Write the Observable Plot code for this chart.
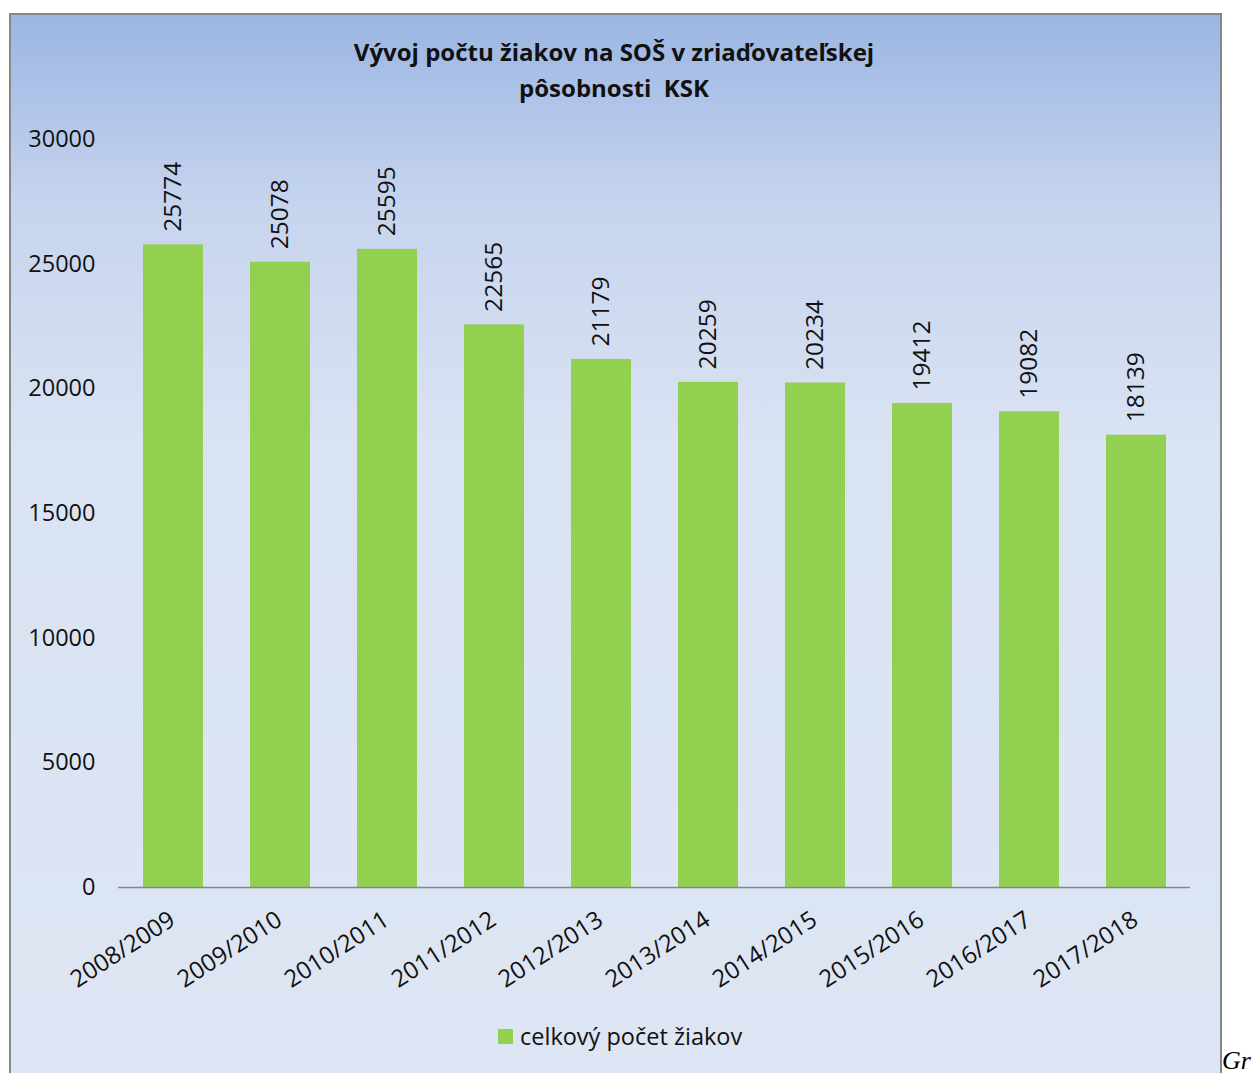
<!DOCTYPE html>
<html><head><meta charset="utf-8">
<script src="https://cdn.jsdelivr.net/npm/d3@7"></script>
<script src="https://cdn.jsdelivr.net/npm/@observablehq/plot@0.6"></script>
<style>
html,body{margin:0;padding:0;background:#fff;width:1258px;height:1073px;overflow:hidden;position:relative;}
#box{position:absolute;left:9px;top:13px;width:1209px;height:1100px;border:2px solid #878787;
 background:linear-gradient(to bottom,#9bb6e3 0px,#c6d4ee 190px,#dae3f3 430px,#dee6f4 100%);}
#chart{position:absolute;left:0;top:0;}
#title{position:absolute;left:0;width:1228px;top:34px;text-align:center;font-family:"Open Sans";font-weight:bold;font-size:24px;line-height:36px;color:#111;white-space:pre;}
#legend{position:absolute;left:498px;top:1020px;font-family:"Open Sans";font-size:23.5px;color:#111;display:flex;align-items:center;}
#legend .sw{width:15px;height:15px;background:#92d050;margin-right:7px;}
#gr{position:absolute;left:1222px;top:1048px;font-family:"Liberation Serif";font-style:italic;font-size:26px;line-height:26px;color:#000;}
</style></head>
<body>
<div id="box"></div>
<div id="title"></div>
<div id="chart"></div>
<div id="legend"><div class="sw"></div><span id="legtext"></span></div>
<div id="gr">Gr</div>
<script>
const titleLines = ["Vývoj počtu žiakov na SOŠ v zriaďovateľskej", "pôsobnosti  KSK"];
const seriesName = "celkový počet žiakov";
const categories = ["2008/2009","2009/2010","2010/2011","2011/2012","2012/2013","2013/2014","2014/2015","2015/2016","2016/2017","2017/2018"];
const values = [25774,25078,25595,22565,21179,20259,20234,19412,19082,18139];
const yTicks = [0,5000,10000,15000,20000,25000,30000];

document.getElementById("title").textContent = titleLines.join("\n");
document.getElementById("legtext").textContent = seriesName;

const data = categories.map((c,i)=>({c, v: values[i]}));
const chart = Plot.plot({
  width:1258, height:1073,
  marginLeft:118, marginRight:68, marginTop:139, marginBottom:186,
  style:{background:"transparent", fontFamily:"Open Sans", fontSize:"23.5px", color:"#111"},
  x:{domain:categories, paddingInner:0.44, paddingOuter:0.22, axis:null},
  y:{domain:[0,30000], ticks:yTicks, tickSize:0, tickPadding:23, tickFormat:d=>String(d), label:null},
  marks:[
    Plot.barY(data,{x:"c", y:"v", fill:"#92d050"}),
    Plot.ruleY([0],{stroke:"#868686", strokeWidth:1.5}),
    Plot.text(data,{x:"c", y:"v", text:d=>String(d.v), rotate:-90, textAnchor:"start", lineAnchor:"middle", dy:-13, fontSize:24.5, fill:"#111"}),
    Plot.text(data,{x:"c", text:"c", frameAnchor:"bottom", rotate:-33, textAnchor:"end", lineAnchor:"top", dx:-6, dy:22, fontSize:24, fill:"#111"})
  ]
});
document.getElementById("chart").appendChild(chart);
</script>
</body></html>
